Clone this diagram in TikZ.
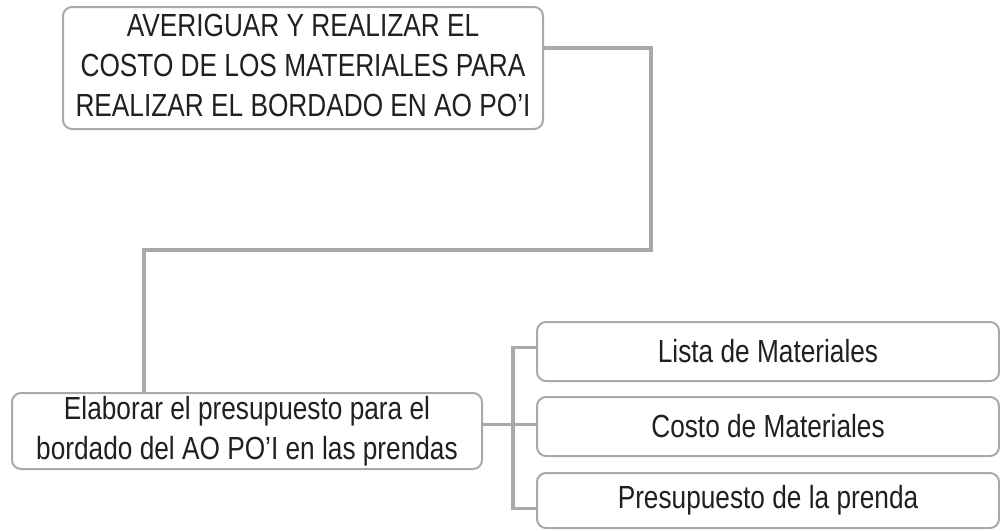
\documentclass[tikz,border=0pt]{standalone}
\usepackage{fontspec}
\setmainfont[FakeStretch=0.82]{Liberation Sans}
\definecolor{linegray}{HTML}{A7A9AC}
\definecolor{txt}{HTML}{231F20}
\tikzset{
  box/.style={draw=linegray, line width=2pt, rounded corners=9pt, fill=white,
    text=txt, align=center, inner sep=0pt,
    font=\fontsize{32}{40}\selectfont},
  link/.style={draw=linegray, line width=3.2pt}
}
\begin{document}
\begin{tikzpicture}[x=1pt,y=-1pt]
\useasboundingbox (0,0) rectangle (1000,530);
\fill[white] (0,0) rectangle (1000,530);
\node[box, minimum width=480pt, minimum height=122pt] (top) at (303,68)
  {\raisebox{4pt}{\begin{tabular}{@{}c@{}}AVERIGUAR Y REALIZAR EL\\COSTO DE LOS MATERIALES PARA\\REALIZAR EL BORDADO EN AO PO’I\end{tabular}}};
\node[box, minimum width=470pt, minimum height=76pt] (bot) at (247,431)
  {Elaborar el presupuesto para el\\bordado del AO PO’I en las prendas};
\node[box, minimum width=462pt, minimum height=59pt] (c1) at (768,351.5) {Lista de Materiales};
\node[box, minimum width=462pt, minimum height=59pt] (c2) at (768,426.5) {Costo de Materiales};
\node[box, minimum width=462pt, minimum height=55pt] (c3) at (768,500.5) {Presupuesto de la prenda};
\coordinate (j1) at (651,48);
\coordinate (j2) at (144,250);
\coordinate (bus) at (513,0);
\draw[link] (j1 -| top.east) -- (j1) |- (j2) -- (j2 |- bot.north);
\draw[link] ([yshift=2pt]c2.west -| bot.east) -- ([yshift=2pt]c2.west);
\draw[link] ([yshift=4pt]c1.west) -| ([yshift=-8pt]bus |- c3.west) -- ([yshift=-8pt]c3.west);
\end{tikzpicture}
\end{document}
